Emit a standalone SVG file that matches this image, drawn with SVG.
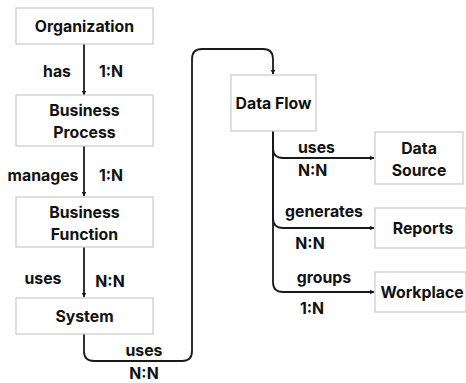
<svg xmlns="http://www.w3.org/2000/svg" width="466" height="383" viewBox="0 0 466 383">
  <style>
    .box { fill: #ffffff; stroke: #c8c8c8; stroke-width: 1.2; }
    .lbl { font-family: Inter, "Liberation Sans", sans-serif; font-weight: 700; font-size: 15.8px; fill: #111; }
    .mid { text-anchor: middle; }
    .edge { fill: none; stroke: #1a1a1a; stroke-width: 1.8; }
  </style>
  <defs>
    <marker id="arrow" viewBox="0 0 10 10" refX="9" refY="5" markerWidth="5" markerHeight="5" orient="auto" markerUnits="userSpaceOnUse">
      <path d="M0,0 L10,5 L0,10 z" fill="#1a1a1a"/>
    </marker>
  </defs>
  <rect width="466" height="383" fill="#ffffff"/>

  <g id="connectors">
    <path class="edge" d="M84,44 V95" marker-end="url(#arrow)"/>
    <path class="edge" d="M84,146 V196" marker-end="url(#arrow)"/>
    <path class="edge" d="M84,247 V297" marker-end="url(#arrow)"/>
    <path class="edge" d="M84,334 V351 Q84,361 94,361 H182 Q192,361 192,351 V59 Q192,49 202,49 H263 Q273,49 273,59 V74" marker-end="url(#arrow)"/>
    <path class="edge" d="M273,131 V148 Q273,158 283,158 H374" marker-end="url(#arrow)"/>
    <path class="edge" d="M273,131 V218 Q273,228 283,228 H374" marker-end="url(#arrow)"/>
    <path class="edge" d="M273,131 V282 Q273,292 283,292 H374" marker-end="url(#arrow)"/>
    <text class="lbl mid" x="57" y="77">has</text>
    <text class="lbl mid" x="111" y="77">1:N</text>
    <text class="lbl mid" x="43" y="181">manages</text>
    <text class="lbl mid" x="111" y="181">1:N</text>
    <text class="lbl mid" x="43" y="284">uses</text>
    <text class="lbl mid" x="110" y="287">N:N</text>
    <text class="lbl mid" x="144" y="356">uses</text>
    <text class="lbl mid" x="144" y="379">N:N</text>
    <text class="lbl" x="298" y="153">uses</text>
    <text class="lbl" x="298" y="176">N:N</text>
    <text class="lbl mid" x="324" y="217">generates</text>
    <text class="lbl mid" x="310" y="249">N:N</text>
    <text class="lbl mid" x="324" y="283">groups</text>
    <text class="lbl mid" x="312" y="314">1:N</text>
  </g>

  <g id="organization">
    <rect class="box" x="16" y="8" width="137" height="36"/>
    <text class="lbl mid" x="84.5" y="32">Organization</text>
  </g>
  <g id="business-process">
    <rect class="box" x="16" y="95" width="137" height="51"/>
    <text class="lbl mid" x="84.5" y="116">Business</text>
    <text class="lbl mid" x="84.5" y="138">Process</text>
  </g>
  <g id="business-function">
    <rect class="box" x="16" y="197" width="137" height="50"/>
    <text class="lbl mid" x="84.5" y="218">Business</text>
    <text class="lbl mid" x="84.5" y="240">Function</text>
  </g>
  <g id="system">
    <rect class="box" x="16" y="298" width="137" height="36"/>
    <text class="lbl mid" x="84.5" y="322">System</text>
  </g>
  <g id="data-flow">
    <rect class="box" x="231" y="75" width="85" height="56"/>
    <text class="lbl mid" x="273.5" y="109">Data Flow</text>
  </g>
  <g id="data-source">
    <rect class="box" x="375" y="132" width="88" height="52"/>
    <text class="lbl mid" x="419" y="154">Data</text>
    <text class="lbl mid" x="419" y="176">Source</text>
  </g>
  <g id="reports">
    <rect class="box" x="375" y="208" width="91" height="40"/>
    <text class="lbl mid" x="423" y="234">Reports</text>
  </g>
  <g id="workplace">
    <rect class="box" x="375" y="272" width="91" height="40"/>
    <text class="lbl mid" x="422" y="298">Workplace</text>
  </g>
</svg>
